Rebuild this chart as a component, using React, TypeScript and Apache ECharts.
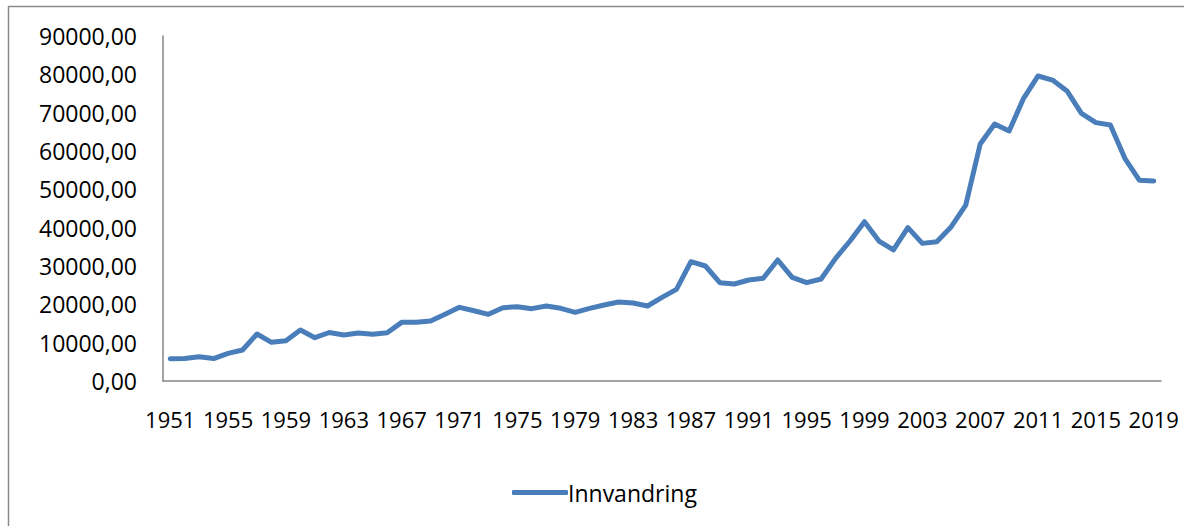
import React, { useEffect, useRef } from "react";
import * as echarts from "echarts";

const years: string[] = [];
for (let y = 1951; y <= 2019; y++) years.push(String(y));

const innvandring: number[] = [
  5830, 5850, 6350, 5850, 7220, 8090, 12260, 10090, 10520, 13300,
  11300, 12650, 12000, 12520, 12170, 12600, 15300, 15300, 15650, 17390,
  19220, 18340, 17390, 19130, 19390, 18870, 19570, 18960, 17910, 18960,
  19830, 20600, 20350, 19570, 21830, 23900, 31130, 30000, 25650, 25300,
  26350, 26800, 31570, 27050, 25650, 26600, 32000, 36520, 41570, 36520,
  34180, 40000, 35900, 36350, 40260, 45900, 61830, 67050, 65220, 73750,
  79570, 78500, 75660, 69800, 67400, 66800, 58100, 52400, 52180,
];

const seriesName = "Innvandring";
const yMin = 0;
const yMax = 90000;
const yStep = 10000;

export default function App() {
  const ref = useRef<HTMLDivElement>(null);
  useEffect(() => {
    if (!ref.current) return;
    const chart = echarts.init(ref.current, undefined, { renderer: "svg" });
    const font = "'Open Sans', 'Liberation Sans', sans-serif";
    chart.setOption({
      animation: false,
      backgroundColor: "#ffffff",
      textStyle: { fontFamily: font, color: "#000" },
      grid: { left: 163, right: 23, top: 36, bottom: 145, containLabel: false },
      graphic: [
        {
          type: "line",
          shape: { x1: 8, y1: 6.5, x2: 1184, y2: 6.5 },
          style: { stroke: "#8a8a8a", lineWidth: 1.5 },
          silent: true,
        },
        {
          type: "line",
          shape: { x1: 8.5, y1: 6, x2: 8.5, y2: 526 },
          style: { stroke: "#8a8a8a", lineWidth: 1.5 },
          silent: true,
        },
      ],
      legend: {
        show: true,
        left: 507,
        top: 476,
        itemWidth: 56,
        itemHeight: 5,
        itemGap: 10,
        textStyle: { fontFamily: font, fontSize: 23, color: "#000", padding: [0, 0, 0, -5] },
        data: [{ name: seriesName, icon: "roundRect" }],
      },
      xAxis: {
        type: "category",
        data: years,
        boundaryGap: true,
        axisLine: { show: true, lineStyle: { color: "#868686", width: 1.5 } },
        axisTick: { show: false },
        axisLabel: {
          interval: 3,
          margin: 27,
          fontFamily: font,
          fontSize: 22,
          color: "#000",
        },
        splitLine: { show: false },
      },
      yAxis: {
        type: "value",
        min: yMin,
        max: yMax,
        interval: yStep,
        axisLine: { show: true, lineStyle: { color: "#868686", width: 1.5 } },
        axisTick: { show: false },
        splitLine: { show: false },
        axisLabel: {
          margin: 26,
          fontFamily: font,
          fontSize: 23,
          color: "#000",
          formatter: (v: number) => v.toFixed(2).replace(".", ","),
        },
      },
      series: [
        {
          name: seriesName,
          type: "line",
          data: innvandring,
          symbol: "none",
          showSymbol: false,
          color: "#4a7ebb",
          itemStyle: { color: "#4a7ebb" },
          lineStyle: { color: "#4a7ebb", width: 5, cap: "round", join: "round" },
        },
      ],
    });
    return () => chart.dispose();
  }, []);
  return (
    <div
      ref={ref}
      style={{ position: "fixed", left: 0, top: 0, width: 1184, height: 526 }}
    />
  );
}
